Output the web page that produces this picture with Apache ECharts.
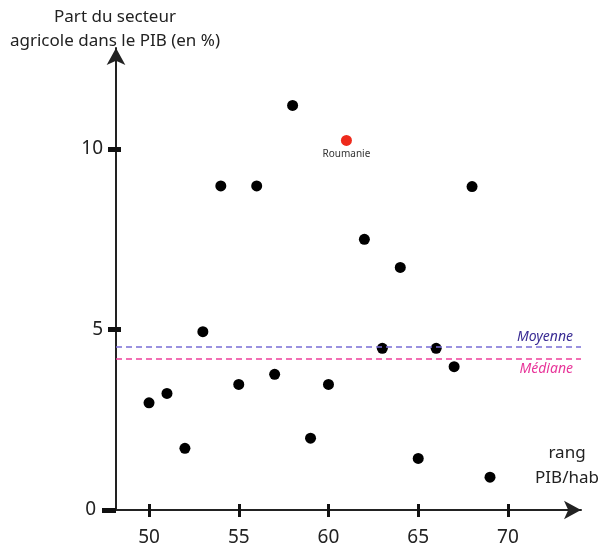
<!DOCTYPE html>
<html>
<head>
<meta charset="utf-8">
<script src="https://cdn.jsdelivr.net/npm/echarts@6/dist/echarts.min.js"></script>
<style>
html,body{margin:0;padding:0;background:#fff;}
#chart{width:606px;height:548px;}
</style>
</head>
<body>
<div id="chart"></div>
<script>
// donnees
var rangs = [50, 51, 52, 53, 54, 55, 56, 57, 58, 59, 60, 61, 62, 63, 64, 65, 66, 67, 68, 69];
var partAgricole = [2.97, 3.23, 1.71, 4.94, 8.98, 3.48, 8.98, 3.76, 11.21, 1.99, 3.48, 10.24, 7.50, 4.48, 6.72, 1.43, 4.48, 3.97, 8.96, 0.91];
var paysSurligne = 'Roumanie';
var rangSurligne = 61;
var moyenne = 4.52;
var mediane = 4.20;
var ticksX = [50, 55, 60, 65, 70];
var ticksY = [5, 10];

(function(){
	var myChart = echarts.init(document.getElementById('chart'));
	var fontFamily = '"Noto Sans", sans-serif';

	var points = [], pointRouge = [];
	for (var i = 0; i < rangs.length; i++) {
		if (rangs[i] === rangSurligne) {
			pointRouge.push({value: [rangs[i], partAgricole[i]], name: paysSurligne});
		} else {
			points.push([rangs[i], partAgricole[i]]);
		}
	}

	var option = {
		animation: false,
		textStyle: {fontFamily: fontFamily},
		grid: {left: 116, right: 25, top: 48, bottom: 38},
		graphic: [{
			// titre de l'axe y
			type: 'text',
			x: 115,
			y: 5,
			style: {
				text: 'Part du secteur\nagricole dans le PIB (en %)',
				align: 'center',
				verticalAlign: 'top',
				fill: '#222',
				font: '17px "Noto Sans", sans-serif',
				lineHeight: 24
			}
		}, {
			// titre de l'axe x
			type: 'text',
			x: 567,
			y: 441,
			style: {
				text: 'rang\nPIB/hab',
				align: 'center',
				verticalAlign: 'top',
				fill: '#222',
				font: '17px "Noto Sans", sans-serif',
				lineHeight: 25
			}
		}],
		xAxis: [{
			type: 'value',
			min: 48.16,
			max: 74.07,
			splitLine: {show: false},
			axisLine: {
				onZero: false,
				symbol: ['none', 'arrow'],
				symbolSize: [14, 17],
				lineStyle: {color: '#222', width: 2}
			},
			axisTick: {customValues: ticksX, length: 7, lineStyle: {color: '#111', width: 3}},
			axisLabel: {customValues: ticksX, margin: 18, fontSize: 19, color: '#222'}
		}, {
			type: 'value',
			position: 'bottom',
			min: 48.16,
			max: 74.07,
			splitLine: {show: false},
			axisLine: {show: false, onZero: false},
			axisTick: {inside: true, customValues: ticksX, length: 6, lineStyle: {color: '#111', width: 3}},
			axisLabel: {show: false}
		}],
		yAxis: [{
			type: 'value',
			min: 0,
			max: 12.8,
			splitLine: {show: false},
			axisLine: {
				onZero: false,
				symbol: ['none', 'arrow'],
				symbolSize: [14, 17],
				lineStyle: {color: '#222', width: 2}
			},
			axisTick: {customValues: ticksY, length: 8, lineStyle: {color: '#111', width: 5}},
			axisLabel: {customValues: ticksY, margin: 13, fontSize: 19, color: '#222'}
		}, {
			// tick du zero, plus long
			type: 'value',
			position: 'left',
			min: 0,
			max: 12.8,
			splitLine: {show: false},
			axisLine: {show: false, onZero: false},
			axisTick: {customValues: [0], length: 14, lineStyle: {color: '#111', width: 5}},
			axisLabel: {customValues: [0], margin: 20, fontSize: 19, color: '#222'}
		}, {
			type: 'value',
			position: 'left',
			min: 0,
			max: 12.8,
			splitLine: {show: false},
			axisLine: {show: false, onZero: false},
			axisTick: {inside: true, customValues: ticksY, length: 5, lineStyle: {color: '#111', width: 5}},
			axisLabel: {show: false}
		}],
		series: [{
			name: 'pays',
			type: 'scatter',
			symbolSize: 11,
			itemStyle: {color: '#000', opacity: 1},
			data: points,
			markLine: {
				silent: true,
				symbol: ['none', 'none'],
				data: [{
					yAxis: moyenne,
					lineStyle: {color: '#7a6ed6', width: 1.5, type: [6, 4], opacity: 1},
					label: {
						formatter: 'Moyenne', position: 'insideEndTop', distance: [8, 3],
						color: '#3a2c94', fontStyle: 'italic', fontSize: 14
					}
				}, {
					yAxis: mediane,
					lineStyle: {color: '#ee3f9b', width: 1.5, type: [6, 4], opacity: 1},
					label: {
						formatter: 'Médiane', position: 'insideEndBottom', distance: [8, 4],
						color: '#e8369a', fontStyle: 'italic', fontSize: 14
					}
				}]
			}
		}, {
			name: paysSurligne,
			type: 'scatter',
			symbolSize: 11,
			itemStyle: {color: '#ee2a1c', opacity: 1},
			label: {
				show: true,
				position: 'bottom',
				distance: 3,
				formatter: '{b}',
				fontSize: 10,
				color: '#333'
			},
			data: pointRouge
		}]
	};
	myChart.setOption(option);
	window.addEventListener('resize', function(){
		myChart.resize();
	});
})();
</script>
</body>
</html>
